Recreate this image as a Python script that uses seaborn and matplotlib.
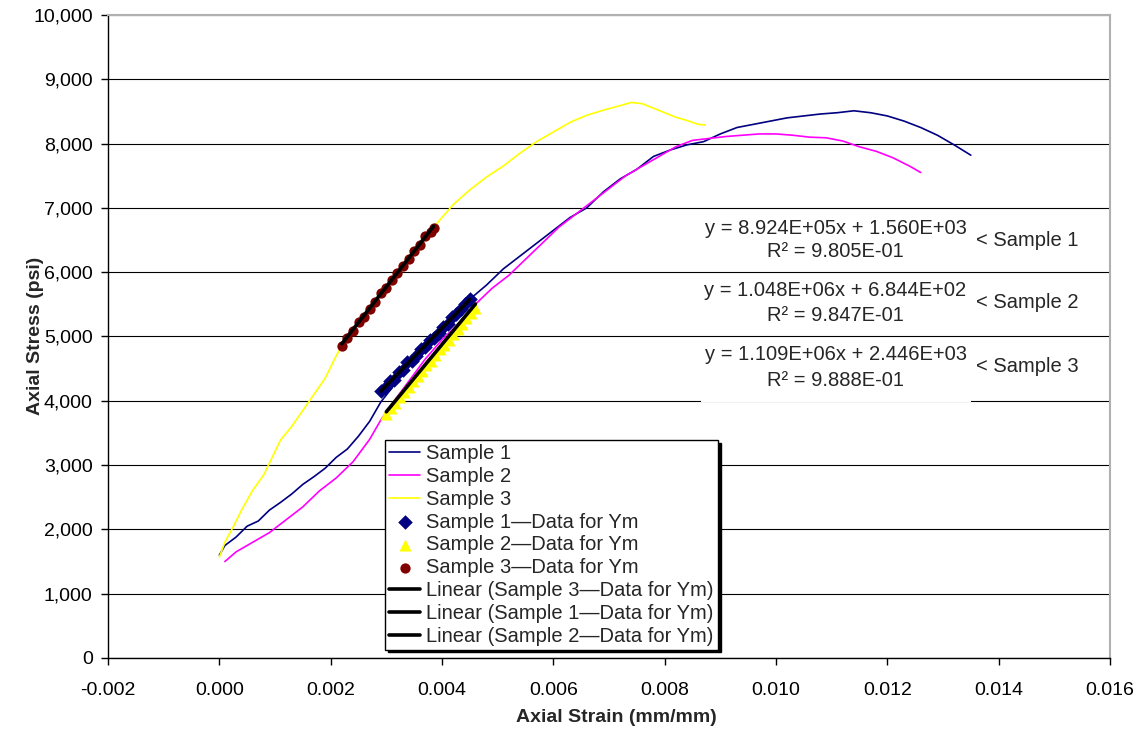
import matplotlib
matplotlib.use("Agg")
import matplotlib.pyplot as plt
import seaborn as sns
from matplotlib.patches import Rectangle
from matplotlib.ticker import FuncFormatter, MultipleLocator

# raw stress-strain curves (strain mm/mm, stress psi)
s1_strain = [0.0000, 0.0001, 0.0003, 0.0005, 0.0007, 0.0009, 0.0011, 0.0013, 0.0015, 0.0017,
             0.0019, 0.0021, 0.0023, 0.0025, 0.0027, 0.0029, 0.0031, 0.0033, 0.0035, 0.0037,
             0.0039, 0.0041, 0.0043, 0.0045, 0.0048, 0.0051, 0.0054, 0.0057, 0.0060, 0.0063,
             0.0066, 0.0069, 0.0072, 0.0075, 0.0078, 0.0081, 0.0084, 0.0087, 0.0090, 0.0093,
             0.0096, 0.0099, 0.0102, 0.0105, 0.0108, 0.0111, 0.0114, 0.0117, 0.0120, 0.0123,
             0.0126, 0.0129, 0.0132, 0.0135]
s1_stress = [1600, 1750, 1880, 2050, 2130, 2300, 2420, 2550, 2700, 2820,
             2950, 3120, 3250, 3450, 3680, 3980, 4200, 4450, 4650, 4850,
             5050, 5250, 5400, 5580, 5800, 6050, 6250, 6450, 6650, 6850,
             7000, 7250, 7450, 7600, 7800, 7900, 7980, 8030, 8150, 8250,
             8300, 8350, 8400, 8430, 8460, 8480, 8510, 8480, 8430, 8350,
             8250, 8130, 7980, 7820]

s2_strain = [0.0001, 0.0003, 0.0006, 0.0009, 0.0012, 0.0015, 0.0018, 0.0021, 0.0024, 0.0027,
             0.0029, 0.0031, 0.0034, 0.0037, 0.0040, 0.0043, 0.0046, 0.0049, 0.0052, 0.0055,
             0.0058, 0.0061, 0.0064, 0.0067, 0.0070, 0.0073, 0.0076, 0.0079, 0.0082, 0.0085,
             0.0088, 0.0091, 0.0094, 0.0097, 0.0100, 0.0103, 0.0106, 0.0109, 0.0112, 0.0115,
             0.0118, 0.0121, 0.0124, 0.0126]
s2_stress = [1500, 1650, 1800, 1950, 2150, 2350, 2600, 2800, 3050, 3400,
             3700, 3950, 4300, 4650, 4950, 5200, 5500, 5750, 5950, 6200,
             6450, 6700, 6900, 7100, 7300, 7500, 7650, 7800, 7950, 8050,
             8080, 8110, 8130, 8150, 8150, 8130, 8100, 8090, 8040, 7950,
             7880, 7780, 7650, 7550]

s3_strain = [0.0000, 0.0001, 0.00025, 0.0004, 0.0006, 0.0008, 0.0009, 0.0011, 0.0013, 0.0015,
             0.0017, 0.0019, 0.0021, 0.0022, 0.0025, 0.0028, 0.0031, 0.0034, 0.0037, 0.0039,
             0.0042, 0.0045, 0.0048, 0.0051, 0.0054, 0.0057, 0.0060, 0.0063, 0.0066, 0.0069,
             0.0072, 0.0074, 0.0076, 0.0078, 0.0080, 0.0082, 0.0084, 0.0086, 0.00873]
s3_stress = [1570, 1800, 2040, 2300, 2610, 2850, 3030, 3390, 3600, 3850,
             4100, 4350, 4700, 4850, 5200, 5550, 5850, 6200, 6550, 6750,
             7050, 7280, 7480, 7650, 7850, 8030, 8180, 8330, 8440, 8520,
             8590, 8640, 8620, 8550, 8480, 8410, 8360, 8300, 8290]

# points used for Young's modulus
ym1_strain = [0.0029, 0.00298, 0.00306, 0.00314, 0.00322, 0.0033, 0.00338, 0.00346, 0.00354, 0.00362,
              0.0037, 0.00378, 0.00386, 0.00394, 0.00402, 0.0041, 0.00418, 0.00426, 0.00434, 0.00442, 0.0045]
ym1_stress = [4150, 4200, 4300, 4330, 4450, 4480, 4600, 4620, 4700, 4800,
              4830, 4950, 4980, 5050, 5150, 5200, 5300, 5350, 5420, 5500, 5580]

ym2_strain = [0.0030, 0.00308, 0.00316, 0.00324, 0.00332, 0.0034, 0.00348, 0.00356, 0.00364, 0.00372,
              0.0038, 0.00388, 0.00396, 0.00404, 0.00412, 0.0042, 0.00428, 0.00436, 0.00444, 0.00452, 0.0046]
ym2_stress = [3800, 3880, 3960, 4060, 4130, 4220, 4300, 4390, 4460, 4550,
              4620, 4710, 4800, 4870, 4950, 5040, 5110, 5200, 5280, 5360, 5450]

ym3_strain = [0.0022, 0.0023, 0.0024, 0.0025, 0.0026, 0.0027, 0.0028, 0.0029, 0.0030, 0.0031,
              0.0032, 0.0033, 0.0034, 0.0035, 0.0036, 0.0037, 0.0038, 0.00385]
ym3_stress = [4850, 4980, 5080, 5220, 5300, 5420, 5530, 5680, 5750, 5880,
              5980, 6100, 6200, 6330, 6420, 6560, 6620, 6680]

# trendline coefficients (slope, intercept)
slopes = [8.924e5, 1.048e6, 1.109e6]
intercepts = [1.560e3, 6.844e2, 2.446e3]
eq_text = ["y = 8.924E+05x + 1.560E+03", "y = 1.048E+06x + 6.844E+02", "y = 1.109E+06x + 2.446E+03"]
r2_text = ["R² = 9.805E-01", "R² = 9.847E-01", "R² = 9.888E-01"]
tags = ["< Sample 1", "< Sample 2", "< Sample 3"]

sns.set_theme(style="white")
plt.rcParams["font.family"] = ["Liberation Sans", "DejaVu Sans"]
plt.rcParams["font.size"] = 14

fig = plt.figure(figsize=(11.43, 7.31), dpi=100)
ax = fig.add_axes([0.0945, 0.0999, 0.8766, 0.8796])

navy, pink, yel, brown = "#000080", "#FF00FF", "#FFFF00", "#800000"

sns.lineplot(x=s1_strain, y=s1_stress, sort=False, estimator=None, color=navy, lw=1.2, label="Sample 1", ax=ax)
sns.lineplot(x=s2_strain, y=s2_stress, sort=False, estimator=None, color=pink, lw=1.2, label="Sample 2", ax=ax)
sns.lineplot(x=s3_strain, y=s3_stress, sort=False, estimator=None, color=yel, lw=1.2, label="Sample 3", ax=ax)

sns.scatterplot(x=ym1_strain, y=ym1_stress, marker="D", color=navy, s=55, linewidth=0,
                label="Sample 1—Data for Ym", ax=ax, zorder=3)
sns.scatterplot(x=ym2_strain, y=ym2_stress, marker="^", color=yel, s=75, linewidth=0,
                label="Sample 2—Data for Ym", ax=ax, zorder=3)
sns.scatterplot(x=ym3_strain, y=ym3_stress, marker="o", color=brown, s=55, linewidth=0,
                label="Sample 3—Data for Ym", ax=ax, zorder=3)

# trendlines, same order as the legend
ranges = [(ym1_strain[0], ym1_strain[-1]), (ym2_strain[0], ym2_strain[-1]), (ym3_strain[0], ym3_strain[-1])]
for i in [2, 0, 1]:
    x0, x1 = ranges[i]
    sns.lineplot(x=[x0, x1], y=[slopes[i] * x0 + intercepts[i], slopes[i] * x1 + intercepts[i]],
                 color="black", lw=2.6, label="Linear (Sample %d—Data for Ym)" % (i + 1), ax=ax, zorder=4)

ax.set_xlim(-0.002, 0.016)
ax.set_ylim(0, 10000)
ax.xaxis.set_major_locator(MultipleLocator(0.002))
ax.yaxis.set_major_locator(MultipleLocator(1000))
ax.xaxis.set_major_formatter(FuncFormatter(lambda v, p: "%.3f" % v))
ax.yaxis.set_major_formatter(FuncFormatter(lambda v, p: "{:,.0f}".format(v)))
ax.yaxis.grid(True, color="black", lw=0.8)
ax.set_axisbelow(True)
ax.tick_params(axis="both", direction="out", length=5, width=1, color="black", labelsize=14, labelcolor="black")
ax.tick_params(axis="x", pad=12, bottom=True)
ax.tick_params(axis="y", pad=6, left=True)
for side in ["left", "bottom"]:
    ax.spines[side].set_color("black")
    ax.spines[side].set_linewidth(1)
for side in ["top", "right"]:
    ax.spines[side].set_color("#b0b0b0")
    ax.spines[side].set_linewidth(1.5)
ax.set_xlabel("")
ax.set_ylabel("")

# white backing behind the trendline labels
ax.add_patch(Rectangle((0.00865, 3975), 0.00485, 900, facecolor="white", edgecolor="none", zorder=1.5))

eq_y = [(6687, 6314), (5708, 5319), (4712, 4323)]
tag_y = [6500, 5521, 4526]
for i in range(3):
    ax.text(0.01107, eq_y[i][0], eq_text[i], ha="center", va="center", fontsize=14.5, zorder=5)
    ax.text(0.01107, eq_y[i][1], r2_text[i], ha="center", va="center", fontsize=14.5, zorder=5)
    ax.text(0.013585, tag_y[i], tags[i], ha="left", va="center", fontsize=14.5, zorder=5)

leg = ax.legend(loc="upper left", bbox_to_anchor=(0.2764, 0.339), borderaxespad=0,
                fancybox=False, shadow={"color": "black", "alpha": 1}, frameon=True,
                edgecolor="black", framealpha=1, fontsize=14.5, labelspacing=0.19,
                handlelength=1.55, handletextpad=0.3, borderpad=0.2)
leg.get_frame().set_linewidth(1)

fig.text(616 / 1143, 1 - 717 / 731, "Axial Strain (mm/mm)", ha="center", va="center",
         fontsize=14, fontweight="bold")
fig.text(36 / 1143, 1 - 336 / 731, "Axial Stress (psi)", ha="center", va="center",
         rotation=90, fontsize=14, fontweight="bold")

fig.savefig("out.png", dpi=100, facecolor="white")
